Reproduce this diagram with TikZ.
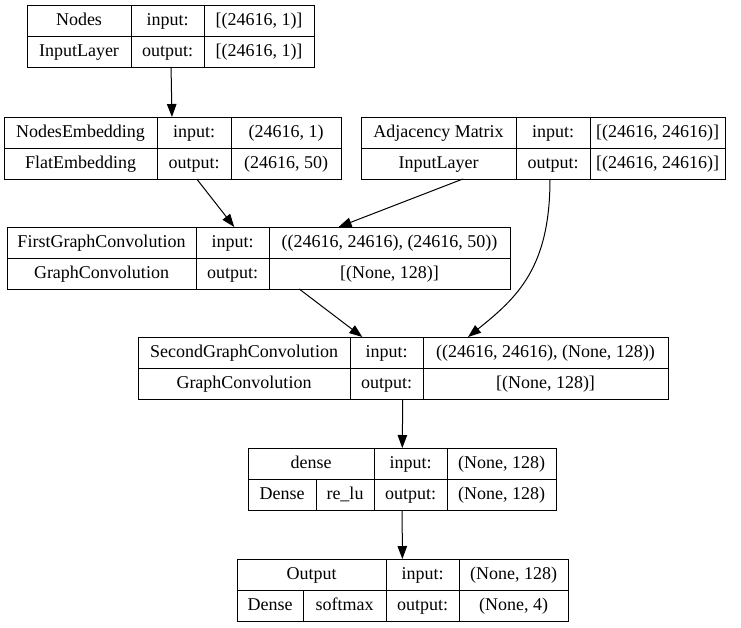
\documentclass[tikz,border=0pt]{standalone}
\usepackage{fontspec}
\setmainfont{Liberation Serif}
\usetikzlibrary{arrows.meta, positioning, fit}

\begin{document}
\begin{tikzpicture}[
  x=1pt, y=-1pt,
  cell/.style={draw, line width=1pt, outer sep=0pt, inner sep=0pt,
               minimum height=31pt, text height=13pt, text depth=4pt,
               font=\fontsize{18}{20}\selectfont},
  layer/.style={inner sep=0pt, outer sep=0pt},
  arrow/.style={-{Triangle[length=13pt, width=9.5pt]}, line width=1pt},
]
\useasboundingbox (0,0) rectangle (741,627);

%% Nodes input
\node[cell, minimum width=104pt, anchor=north west] (Nn) at (27,5) {Nodes};
\node[cell, minimum width=104pt, below=0pt of Nn] (Nt) {InputLayer};
\node[cell, minimum width=73pt, right=0pt of Nn] (Ni) {input:};
\node[cell, minimum width=73pt, right=0pt of Nt] (No) {output:};
\node[cell, minimum width=110pt, right=0pt of Ni] (Nis) {[(24616, 1)]};
\node[cell, minimum width=110pt, right=0pt of No] (Nos) {[(24616, 1)]};
\node[layer, fit=(Nn)(Nos)] (N) {};

%% Embedding
\node[cell, minimum width=153pt, anchor=north west] (En) at (4,117) {NodesEmbedding};
\node[cell, minimum width=153pt, below=0pt of En] (Et) {FlatEmbedding};
\node[cell, minimum width=74pt, right=0pt of En] (Ei) {input:};
\node[cell, minimum width=74pt, right=0pt of Et] (Eo) {output:};
\node[cell, minimum width=110pt, right=0pt of Ei] (Eis) {(24616, 1)};
\node[cell, minimum width=110pt, right=0pt of Eo] (Eos) {(24616, 50)};
\node[layer, fit=(En)(Eos)] (E) {};

%% Adjacency input
\node[cell, minimum width=155pt, anchor=north west] (An) at (361,117) {Adjacency Matrix};
\node[cell, minimum width=155pt, below=0pt of An] (At) {InputLayer};
\node[cell, minimum width=74pt, right=0pt of An] (Ai) {input:};
\node[cell, minimum width=74pt, right=0pt of At] (Ao) {output:};
\node[cell, minimum width=135pt, right=0pt of Ai] (Ais) {[(24616, 24616)]};
\node[cell, minimum width=135pt, right=0pt of Ao] (Aos) {[(24616, 24616)]};
\node[layer, fit=(An)(Aos)] (A) {};

%% First convolution
\node[cell, minimum width=189pt, anchor=north west] (Fn) at (7,227) {FirstGraphConvolution};
\node[cell, minimum width=189pt, below=0pt of Fn] (Ft) {GraphConvolution};
\node[cell, minimum width=73pt, right=0pt of Fn] (Fi) {input:};
\node[cell, minimum width=73pt, right=0pt of Ft] (Fo) {output:};
\node[cell, minimum width=241pt, right=0pt of Fi] (Fis) {((24616, 24616), (24616, 50))};
\node[cell, minimum width=241pt, right=0pt of Fo] (Fos) {[(None, 128)]};
\node[layer, fit=(Fn)(Fos)] (G1) {};

%% Second convolution
\node[cell, minimum width=212pt, anchor=north west] (Sn) at (138,337) {SecondGraphConvolution};
\node[cell, minimum width=212pt, below=0pt of Sn] (St) {GraphConvolution};
\node[cell, minimum width=73pt, right=0pt of Sn] (Si) {input:};
\node[cell, minimum width=73pt, right=0pt of St] (So) {output:};
\node[cell, minimum width=245pt, right=0pt of Si] (Sis) {((24616, 24616), (None, 128))};
\node[cell, minimum width=245pt, right=0pt of So] (Sos) {[(None, 128)]};
\node[layer, fit=(Sn)(Sos)] (G2) {};

%% Dense
\node[cell, minimum width=126pt, anchor=north west] (Dn) at (248,448) {dense};
\node[cell, minimum width=68pt, anchor=north west] (Dt) at (Dn.south west) {Dense};
\node[cell, minimum width=58pt, right=0pt of Dt] (Da) {re\_lu};
\node[cell, minimum width=73pt, right=0pt of Dn] (Di) {input:};
\node[cell, minimum width=73pt, below=0pt of Di] (Do) {output:};
\node[cell, minimum width=109pt, right=0pt of Di] (Dis) {(None, 128)};
\node[cell, minimum width=109pt, right=0pt of Do] (Dos) {(None, 128)};
\node[layer, fit=(Dn)(Dos)] (D) {};

%% Output
\node[cell, minimum width=149pt, anchor=north west] (On) at (237,559) {Output};
\node[cell, minimum width=66pt, anchor=north west] (Ot) at (On.south west) {Dense};
\node[cell, minimum width=83pt, right=0pt of Ot] (Oa) {softmax};
\node[cell, minimum width=73pt, right=0pt of On] (Oi) {input:};
\node[cell, minimum width=73pt, below=0pt of Oi] (Oo) {output:};
\node[cell, minimum width=109pt, right=0pt of Oi] (Ois) {(None, 128)};
\node[cell, minimum width=109pt, right=0pt of Oo] (Oos) {(None, 4)};
\node[layer, fit=(On)(Oos)] (O) {};

%% Edges
\draw[arrow] (N) -- (E);
\draw[arrow] (E) -- (G1);
\draw[arrow] (A) -- (G1);
\draw[arrow] (G1) -- (G2);
\draw[arrow] ([xshift=7pt]A.south) .. controls +(0,88) and +(50,-40) .. ([xshift=65pt]G2.north);
\draw[arrow] (G2) -- (D);
\draw[arrow] (D) -- (O);

\end{tikzpicture}
\end{document}
